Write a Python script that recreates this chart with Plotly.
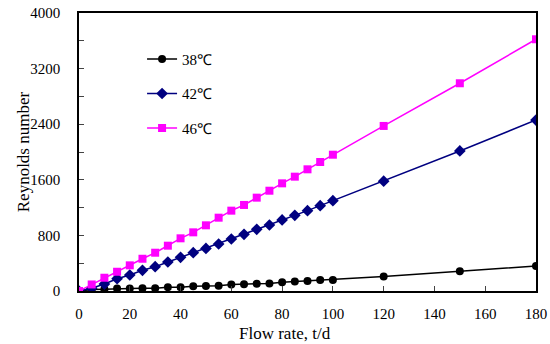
import plotly.graph_objects as go

flow = [0, 5, 10, 15, 20, 25, 30, 35, 40, 45, 50, 55, 60, 65, 70, 75, 80, 85, 90, 95, 100, 120, 150, 180]
re_38 = [0, 20, 25, 35, 35, 38, 38, 55, 55, 70, 72, 75, 95, 98, 105, 108, 125, 135, 145, 160, 160, 210, 285, 360]
re_42 = [0, 40, 100, 177, 230, 298, 350, 417, 485, 551, 612, 676, 748, 816, 888, 950, 1022, 1089, 1156, 1228, 1300, 1580, 2015, 2460]
re_46 = [0, 94, 191, 277, 369, 464, 551, 652, 758, 844, 945, 1055, 1156, 1238, 1343, 1443, 1549, 1645, 1751, 1856, 1961, 2375, 2989, 3622]
names = ["38℃", "42℃", "46℃"]
x_title = "Flow rate, t/d"
y_title = "Reynolds number"

FONT = "Liberation Serif"

fig = go.Figure()
series = [
    (re_38, names[0], "black", "circle", 8),
    (re_42, names[1], "#000080", "diamond", 9),
    (re_46, names[2], "#FF00FF", "square", 8),
]
for i, (vals, nm, col, sym, sz) in enumerate(series):
    fig.add_trace(go.Scatter(
        x=flow, y=vals, name=nm, mode="lines+markers",
        line=dict(color=col, width=1.5),
        marker=dict(symbol=sym, size=sz, color=col),
        legendgroup=str(i),
    ))

fig.update_layout(
    width=550, height=344,
    margin=dict(l=79, r=14, t=13, b=53),
    paper_bgcolor="white", plot_bgcolor="white",
    font=dict(family=FONT, size=15, color="black"),
    showlegend=True,
    legend=dict(x=0.138, y=0.893, xanchor="left", yanchor="top",
                bgcolor="rgba(0,0,0,0)", font=dict(size=15, family=FONT),
                tracegroupgap=12, traceorder="grouped", itemwidth=30),
    xaxis=dict(range=[0, 180], dtick=20, tick0=0, ticks="inside", ticklen=5,
               ticklabelstandoff=8,
               showline=True, linecolor="black", linewidth=1.5, mirror=True,
               showgrid=False, zeroline=False, automargin=False),
    yaxis=dict(range=[0, 4000], dtick=800, tick0=0, ticks="inside", ticklen=5,
               ticklabelstandoff=14,
               minor=dict(dtick=400, ticks="inside", ticklen=5),
               showline=True, linecolor="black", linewidth=1.5, mirror=True,
               showgrid=False, zeroline=False, automargin=False),
    annotations=[
        dict(text=x_title, xref="paper", yref="paper", x=0.45, y=-0.153,
             xanchor="center", yanchor="middle", showarrow=False,
             font=dict(size=17, family=FONT)),
        dict(text=y_title, xref="paper", yref="paper", x=-0.122, y=0.5,
             xanchor="center", yanchor="middle", showarrow=False, textangle=-90,
             font=dict(size=17, family=FONT)),
    ],
)
fig.write_html("out.html", config={"displayModeBar": False},
               post_script="document.body.style.margin='0';document.documentElement.style.overflow='hidden';")
